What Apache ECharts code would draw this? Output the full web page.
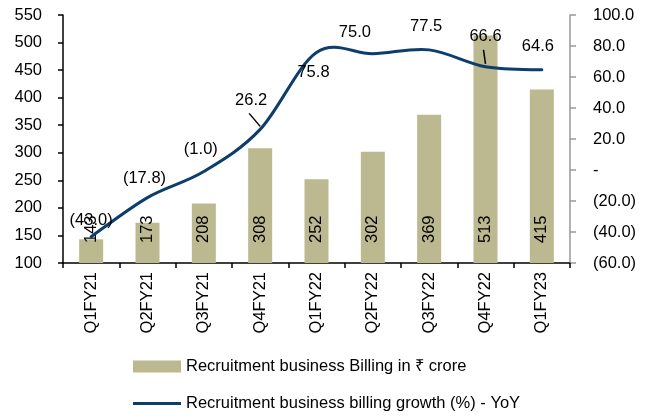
<!DOCTYPE html>
<html>
<head>
<meta charset="utf-8">
<script src="https://cdn.jsdelivr.net/npm/echarts@6/dist/echarts.min.js"></script>
<style>
  html, body { margin: 0; padding: 0; background: #fff; }
  #chart { width: 651px; height: 419px; }
</style>
</head>
<body>
<div id="chart"></div>
<script>
const categories = ['Q1FY21', 'Q2FY21', 'Q3FY21', 'Q4FY21', 'Q1FY22', 'Q2FY22', 'Q3FY22', 'Q4FY22', 'Q1FY23'];
const billing = [143, 173, 208, 308, 252, 302, 369, 513, 415];
const growth = [-43.0, -17.8, -1.0, 26.2, 75.8, 75.0, 77.5, 66.6, 64.6];

// where each growth label sits relative to its point (px), and which ones get a leader line
const labelOffsets = [[0, -16], [-3, -19], [-3, -22], [-9, -29], [-3, 20], [-18, -21], [-3, -23], [0, -30], [-4, -23]];
const hasLeader = [false, false, false, true, false, false, false, true, false];

const BAR_NAME = 'Recruitment business Billing in ₹ crore';
const LINE_NAME = 'Recruitment business billing growth (%) - YoY';
const FONT = "'Liberation Sans', Arial, sans-serif";
const FS = 16.5;
const LINE_COLOR = '#0c3d6c';

function fmtPct(v) {
    if (v === 0) return '-';
    if (v < 0) return '(' + Math.abs(v).toFixed(1) + ')';
    return v.toFixed(1);
}

// Excel-style smoothed line (cardinal spline, tension 1/6) through pixel points
function smoothPath(pts) {
    let d = 'M' + pts[0][0] + ',' + pts[0][1];
    for (let i = 0; i < pts.length - 1; i++) {
        const p0 = pts[Math.max(i - 1, 0)];
        const p1 = pts[i];
        const p2 = pts[i + 1];
        const p3 = pts[Math.min(i + 2, pts.length - 1)];
        const c1x = p1[0] + (p2[0] - p0[0]) / 6;
        const c1y = p1[1] + (p2[1] - p0[1]) / 6;
        const c2x = p2[0] - (p3[0] - p1[0]) / 6;
        const c2y = p2[1] - (p3[1] - p1[1]) / 6;
        d += ' C' + c1x + ',' + c1y + ' ' + c2x + ',' + c2y + ' ' + p2[0] + ',' + p2[1];
    }
    return d;
}

function renderGrowth(params, api) {
    const i = params.dataIndex;
    const pt = api.coord([i, growth[i]]);
    const off = labelOffsets[i];
    const lx = pt[0] + off[0];
    const ly = pt[1] + off[1];
    const children = [];

    if (i === 0) {
        const pts = growth.map((v, k) => api.coord([k, v]));
        children.push({
            type: 'path',
            shape: { pathData: smoothPath(pts) },
            style: { stroke: LINE_COLOR, lineWidth: 3, fill: null, lineCap: 'round' }
        });
    }
    if (hasLeader[i]) {
        children.push({
            type: 'line',
            shape: { x1: lx - 2, y1: ly + 13, x2: pt[0], y2: pt[1] - 3 },
            style: { stroke: '#000', lineWidth: 1.5 }
        });
    }
    children.push({
        type: 'text',
        x: lx,
        y: ly,
        style: {
            text: fmtPct(growth[i]),
            fill: '#000',
            fontSize: FS,
            fontFamily: FONT,
            align: 'center',
            verticalAlign: 'middle'
        },
        z2: 10
    });
    return { type: 'group', children: children };
}

const chart = echarts.init(document.getElementById('chart'), null, { renderer: 'canvas' });

const legendText = { fontFamily: FONT, fontSize: FS, color: '#000' };

const option = {
    backgroundColor: '#fff',
    animation: false,
    textStyle: { fontFamily: FONT, color: '#000' },
    grid: { left: 63, right: 81, top: 15, bottom: 156 },
    legend: [
        {
            left: 133, top: 358, padding: 0,
            itemWidth: 48, itemHeight: 12,
            textStyle: legendText,
            data: [{ name: BAR_NAME, icon: 'rect' }]
        },
        {
            left: 133, top: 395, padding: 0,
            itemWidth: 48, itemHeight: 3,
            textStyle: legendText,
            data: [{ name: LINE_NAME, icon: 'rect' }]
        }
    ],
    xAxis: {
        type: 'category',
        data: categories,
        axisLine: { onZero: false, lineStyle: { color: '#000', width: 1.5 } },
        axisTick: { show: true, length: 5, lineStyle: { color: '#000', width: 1.5 } },
        axisLabel: { rotate: 90, margin: 9, fontFamily: FONT, fontSize: FS, color: '#000' }
    },
    yAxis: [
        {
            type: 'value',
            min: 100, max: 550, interval: 50,
            position: 'left',
            splitLine: { show: false },
            axisLine: { show: true, lineStyle: { color: '#000', width: 1.5 } },
            axisTick: { show: true, length: 5, lineStyle: { color: '#000', width: 1.5 } },
            axisLabel: { margin: 21, fontFamily: FONT, fontSize: FS, color: '#000' }
        },
        {
            type: 'value',
            min: -60, max: 100, interval: 20,
            position: 'right',
            splitLine: { show: false },
            axisLine: { show: true, lineStyle: { color: '#999', width: 1.5 } },
            axisTick: { show: true, length: 6, lineStyle: { color: '#999', width: 1.5 } },
            axisLabel: { margin: 23, align: 'left', fontFamily: FONT, fontSize: FS, color: '#000', formatter: fmtPct }
        }
    ],
    series: [
        {
            name: BAR_NAME,
            type: 'bar',
            yAxisIndex: 0,
            data: billing,
            barWidth: 24,
            itemStyle: { color: '#bcb890' },
            label: {
                show: true,
                position: 'insideBottom',
                distance: 20,
                rotate: 90,
                align: 'left',
                verticalAlign: 'middle',
                fontFamily: FONT,
                fontSize: FS,
                color: '#000'
            }
        },
        {
            name: LINE_NAME,
            type: 'custom',
            coordinateSystem: 'cartesian2d',
            xAxisIndex: 0,
            yAxisIndex: 1,
            itemStyle: { color: LINE_COLOR },
            data: growth.map((v, i) => [i, v]),
            encode: { x: 0, y: 1 },
            renderItem: renderGrowth,
            clip: false,
            z: 5
        }
    ]
};

chart.setOption(option);
</script>
</body>
</html>
